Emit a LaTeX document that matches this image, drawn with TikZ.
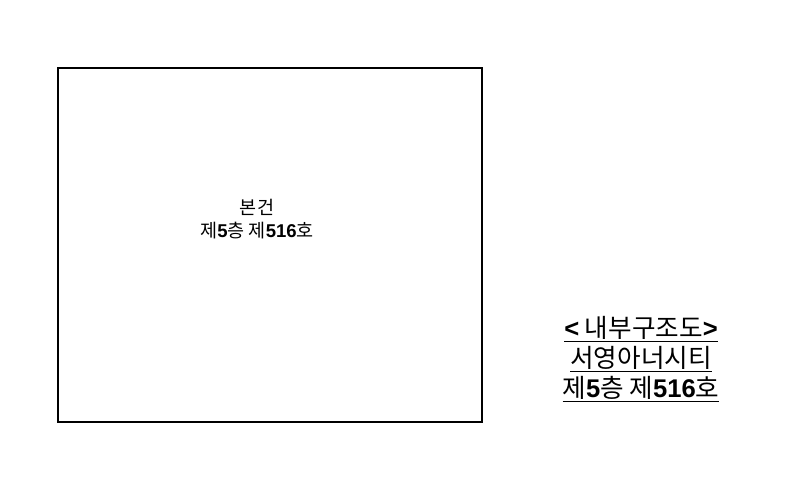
\documentclass[tikz,border=0pt]{standalone}
\usepackage{fontspec}
\setmainfont{Noto Sans CJK KR}
\newfontfamily\numfont{Liberation Sans}
\newcommand{\dg}[1]{{\numfont\bfseries #1}}
\begin{document}
\begin{tikzpicture}[x=0.75pt,y=-0.75pt,
  boxtext/.style={font=\fontsize{13.9}{16.5}\selectfont, align=center, inner sep=0pt},
  sidetext/.style={font=\fontsize{19.2}{22.5}\selectfont, align=center, inner sep=0pt}]
\useasboundingbox (0,0) rectangle (800,503);
\node[draw, line width=1.2pt, minimum width=424*0.75pt, minimum height=354*0.75pt, anchor=north west, inner sep=0pt] (room) at (57,67) {};
\node[boxtext] (lbl) at (257,219) {본건\\[1pt]제\dg{5}층 제\dg{516}호};
\node[sidetext] (side) at (641,359) {\underline{\dg{<} 내부구조도\dg{>}}\\\underline{서영아너시티}\\\underline{제\dg{5}층 제\dg{516}호}};
\end{tikzpicture}
\end{document}
